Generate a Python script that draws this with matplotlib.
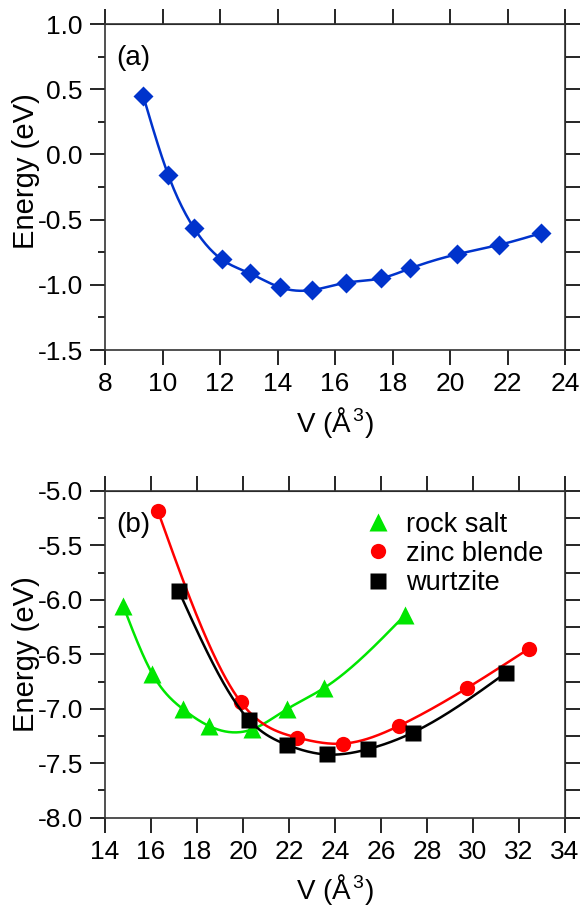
import numpy as np
import matplotlib
matplotlib.use('Agg')
import matplotlib.pyplot as plt

plt.rcParams['font.family'] = ['Liberation Sans', 'DejaVu Sans']
plt.rcParams['mathtext.fontset'] = 'custom'
plt.rcParams['mathtext.rm'] = 'Liberation Sans'
plt.rcParams['mathtext.it'] = 'Liberation Sans'

# panel (a)
vol_a = [9.33, 10.2, 11.1, 12.06, 13.04, 14.1, 15.21, 16.38, 17.6, 18.62, 20.24, 21.69, 23.15]
en_a = [0.448, -0.158, -0.567, -0.805, -0.912, -1.02, -1.04, -0.984, -0.95, -0.874, -0.766, -0.695, -0.605]

# panel (b)
vol_rs = [14.8, 16.06, 17.4, 18.54, 20.38, 21.9, 23.52, 27.04]
en_rs = [-6.06, -6.68, -7.005, -7.16, -7.19, -7.005, -6.81, -6.14]
vol_zb = [16.29, 19.91, 22.36, 24.36, 26.8, 29.74, 32.42]
en_zb = [-5.18, -6.94, -7.265, -7.32, -7.155, -6.81, -6.45]
vol_wz = [17.2, 20.25, 21.9, 23.64, 25.45, 27.37, 31.43]
en_wz = [-5.915, -7.10, -7.33, -7.42, -7.37, -7.22, -6.67]


def spline(x, y, n=300):
    # natural cubic spline through the points, for the smooth line
    x = np.asarray(x, float)
    y = np.asarray(y, float)
    m = len(x)
    h = np.diff(x)
    A = np.zeros((m, m))
    b = np.zeros(m)
    A[0, 0] = 1
    A[-1, -1] = 1
    for i in range(1, m - 1):
        A[i, i - 1] = h[i - 1]
        A[i, i] = 2 * (h[i - 1] + h[i])
        A[i, i + 1] = h[i]
        b[i] = 3 * ((y[i + 1] - y[i]) / h[i] - (y[i] - y[i - 1]) / h[i - 1])
    c = np.linalg.solve(A, b)
    xs = np.linspace(x[0], x[-1], n)
    idx = np.clip(np.searchsorted(x, xs) - 1, 0, m - 2)
    dx = xs - x[idx]
    bb = (y[idx + 1] - y[idx]) / h[idx] - h[idx] * (2 * c[idx] + c[idx + 1]) / 3
    dd = (c[idx + 1] - c[idx]) / (3 * h[idx])
    ys = y[idx] + bb * dx + c[idx] * dx ** 2 + dd * dx ** 3
    return xs, ys


def style_axes(ax, xticks, yticks, yminor, ylab_y):
    ax.set_xticks(xticks)
    ax.set_yticks(yticks)
    ax.set_yticks(yminor, minor=True)
    ax.set_yticklabels(['%.1f' % t for t in yticks])
    ax.tick_params(which='major', direction='out', length=11, width=1.2, labelsize=19, pad=5)
    ax.tick_params(which='minor', direction='out', length=5, width=1.2)
    for s in ax.spines.values():
        s.set_linewidth(1.2)
        s.set_color('#333333')
    top = ax.secondary_xaxis('top')
    top.set_xticks(xticks)
    top.tick_params(direction='out', length=11, width=1.2, labeltop=False)
    right = ax.secondary_yaxis('right')
    right.set_yticks(yminor)
    right.tick_params(direction='out', length=11, width=1.2, labelright=False)
    ax.set_xlabel(r'V (Å$^{\,3}$)', fontsize=20, labelpad=6)
    ax.set_ylabel('Energy (eV)', fontsize=21, va='center')
    ax.yaxis.set_label_coords(-0.172, ylab_y)


fig = plt.figure(figsize=(5.84, 9.07), dpi=100)
ax1 = fig.add_axes([0.1798, 0.6141, 0.7877, 0.3594])
ax2 = fig.add_axes([0.1798, 0.0985, 0.7877, 0.3602])

xs, ys = spline(vol_a, en_a)
ax1.plot(xs, ys, color='#0033cc', lw=1.8)
ax1.plot(vol_a, en_a, 'D', color='#0033cc', ms=10, mec='none')
ax1.set_xlim(8, 24)
ax1.set_ylim(-1.5, 1.0)
style_axes(ax1, np.arange(8, 25, 2), np.arange(-1.5, 1.01, 0.5), np.arange(-1.5, 1.01, 0.25), 0.55)
ax1.text(0.025, 0.895, '(a)', transform=ax1.transAxes, fontsize=20, va='center')

for v, e, c, m, ms, lab in [(vol_rs, en_rs, '#00e600', '^', 13, 'rock salt'),
                            (vol_zb, en_zb, '#ff0000', 'o', 11, 'zinc blende'),
                            (vol_wz, en_wz, '#000000', 's', 11, 'wurtzite')]:
    xs, ys = spline(v, e)
    ax2.plot(xs, ys, color=c, lw=1.8)
    ax2.plot(v, e, m, color=c, ms=ms, mec='none', label=lab)

ax2.set_xlim(14, 34)
ax2.set_ylim(-8.0, -5.0)
style_axes(ax2, np.arange(14, 35, 2), np.arange(-8.0, -4.99, 0.5), np.arange(-8.0, -4.99, 0.25), 0.5)
ax2.text(0.025, 0.895, '(b)', transform=ax2.transAxes, fontsize=20, va='center')
ax2.legend(loc='upper left', bbox_to_anchor=(0.514, 0.995), frameon=False, fontsize=19.5,
           handletextpad=0.4, labelspacing=0.12, borderaxespad=0.3, handlelength=1.3)

fig.savefig('out.png', dpi=100)
